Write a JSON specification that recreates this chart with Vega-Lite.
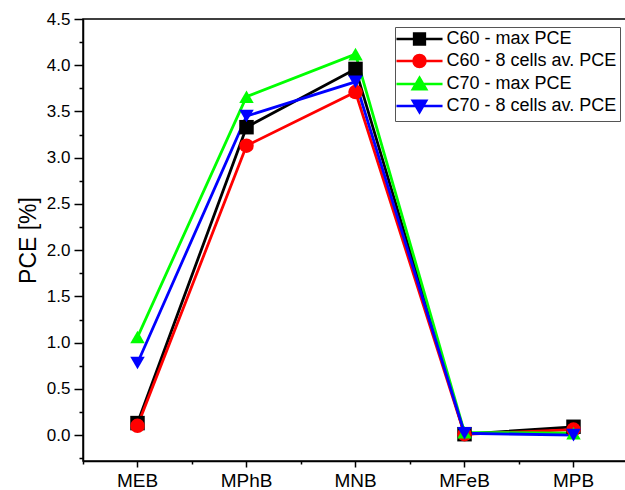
{
  "$schema": "https://vega.github.io/schema/vega-lite/v6.json",
  "width": 545,
  "height": 442,
  "autosize": {"type": "none"},
  "padding": {"left": 83, "top": 19, "right": 0, "bottom": 29},
  "background": "white",
  "config": {
    "view": {"stroke": "black", "strokeWidth": 1.5},
    "font": "Liberation Sans",
    "axis": {
      "domainColor": "black", "domainWidth": 1.5,
      "tickColor": "black", "tickWidth": 1.5,
      "labelColor": "black", "labelFont": "Liberation Sans",
      "titleColor": "black", "titleFont": "Liberation Sans",
      "grid": false
    },
    "axisX": {"labelFontSize": 19, "labelPadding": 4, "labelAngle": 0},
    "axisY": {"labelFontSize": 17, "labelPadding": 4, "titleFontSize": 23, "titleFontWeight": "normal", "titlePadding": 6},
    "legend": {
      "orient": "none", "legendX": 312, "legendY": 8,
      "labelFontSize": 18, "labelColor": "black", "labelFont": "Liberation Sans", "labelLimit": 400,
      "symbolSize": 225, "symbolOffset": 12.5, "labelOffset": 18,
      "padding": 3, "rowPadding": 0,
      "strokeColor": "#555555"
    }
  },
  "data": {
    "values": [
      {"sample": "MEB", "series": "C60 - max PCE", "pce": 0.13},
      {"sample": "MPhB", "series": "C60 - max PCE", "pce": 3.33},
      {"sample": "MNB", "series": "C60 - max PCE", "pce": 3.96},
      {"sample": "MFeB", "series": "C60 - max PCE", "pce": 0.01},
      {"sample": "MPB", "series": "C60 - max PCE", "pce": 0.09},
      {"sample": "MEB", "series": "C60 - 8 cells av. PCE", "pce": 0.10},
      {"sample": "MPhB", "series": "C60 - 8 cells av. PCE", "pce": 3.13},
      {"sample": "MNB", "series": "C60 - 8 cells av. PCE", "pce": 3.71},
      {"sample": "MFeB", "series": "C60 - 8 cells av. PCE", "pce": 0.01},
      {"sample": "MPB", "series": "C60 - 8 cells av. PCE", "pce": 0.06},
      {"sample": "MEB", "series": "C70 - max PCE", "pce": 1.06},
      {"sample": "MPhB", "series": "C70 - max PCE", "pce": 3.66},
      {"sample": "MNB", "series": "C70 - max PCE", "pce": 4.12},
      {"sample": "MFeB", "series": "C70 - max PCE", "pce": 0.03},
      {"sample": "MPB", "series": "C70 - max PCE", "pce": 0.02},
      {"sample": "MEB", "series": "C70 - 8 cells av. PCE", "pce": 0.78},
      {"sample": "MPhB", "series": "C70 - 8 cells av. PCE", "pce": 3.45},
      {"sample": "MNB", "series": "C70 - 8 cells av. PCE", "pce": 3.82},
      {"sample": "MFeB", "series": "C70 - 8 cells av. PCE", "pce": 0.02},
      {"sample": "MPB", "series": "C70 - 8 cells av. PCE", "pce": 0.00}
    ]
  },
  "layer": [
    {
      "mark": {"type": "line", "strokeWidth": 2.8},
      "encoding": {
        "x": {
          "field": "sample", "type": "nominal",
          "sort": ["MEB", "MPhB", "MNB", "MFeB", "MPB"],
          "scale": {"type": "band", "paddingInner": 0, "paddingOuter": 0},
          "axis": {"title": null, "orient": "bottom", "tickSize": 6, "tickBand": "center"}
        },
        "y": {
          "field": "pce", "type": "quantitative",
          "scale": {"domain": [-0.28, 4.5], "nice": false, "zero": false},
          "axis": {
            "title": "PCE [%]", "orient": "left",
            "values": [0, 0.5, 1, 1.5, 2, 2.5, 3, 3.5, 4, 4.5],
            "format": ".1f", "tickSize": 9, "labelOverlap": false
          }
        },
        "color": {
          "field": "series", "type": "nominal",
          "sort": ["C60 - max PCE", "C60 - 8 cells av. PCE", "C70 - max PCE", "C70 - 8 cells av. PCE"],
          "scale": {"range": ["#000000", "#ff0000", "#00ff00", "#0000ff"]},
          "legend": {
            "title": null,
            "encode": {
              "symbols": {
                "update": {
                  "shape": {"signal": "datum.value === 'C60 - max PCE' ? 'M-3.07,0H3.07M-0.72,-0.72H0.72V0.72H-0.72Z' : datum.value === 'C60 - 8 cells av. PCE' ? 'M-3.07,0H3.07M-0.8,0A0.8,0.8,0,1,1,0.8,0A0.8,0.8,0,1,1,-0.8,0Z' : datum.value === 'C70 - max PCE' ? 'M-3.07,0H3.07M0,-0.85L0.9,0.7L-0.9,0.7Z' : 'M-3.07,0H3.07M0,0.85L0.9,-0.7L-0.9,-0.7Z'"},
                  "fill": {"scale": "color", "field": "value"},
                  "stroke": {"scale": "color", "field": "value"},
                  "strokeWidth": {"value": 2.5},
                  "opacity": {"value": 1}
                }
              }
            }
          }
        }
      }
    },
    {
      "mark": {"type": "point", "filled": true, "opacity": 1, "size": 210},
      "encoding": {
        "x": {"field": "sample", "type": "nominal", "sort": ["MEB", "MPhB", "MNB", "MFeB", "MPB"], "axis": null},
        "y": {"field": "pce", "type": "quantitative", "axis": null},
        "color": {
          "field": "series", "type": "nominal",
          "sort": ["C60 - max PCE", "C60 - 8 cells av. PCE", "C70 - max PCE", "C70 - 8 cells av. PCE"],
          "legend": {
            "title": null,
            "encode": {
              "symbols": {
                "update": {
                  "shape": {"signal": "datum.value === 'C60 - max PCE' ? 'M-3.07,0H3.07M-0.72,-0.72H0.72V0.72H-0.72Z' : datum.value === 'C60 - 8 cells av. PCE' ? 'M-3.07,0H3.07M-0.8,0A0.8,0.8,0,1,1,0.8,0A0.8,0.8,0,1,1,-0.8,0Z' : datum.value === 'C70 - max PCE' ? 'M-3.07,0H3.07M0,-0.85L0.9,0.7L-0.9,0.7Z' : 'M-3.07,0H3.07M0,0.85L0.9,-0.7L-0.9,-0.7Z'"},
                  "fill": {"scale": "color", "field": "value"},
                  "stroke": {"scale": "color", "field": "value"},
                  "strokeWidth": {"value": 2.5},
                  "opacity": {"value": 1}
                }
              }
            }
          }
        },
        "shape": {
          "field": "series", "type": "nominal",
          "sort": ["C60 - max PCE", "C60 - 8 cells av. PCE", "C70 - max PCE", "C70 - 8 cells av. PCE"],
          "scale": {"range": ["square", "circle", "triangle-up", "triangle-down"]},
          "legend": null
        }
      }
    },
    {
      "mark": {"type": "point", "opacity": 0},
      "encoding": {
        "x": {
          "field": "sample", "type": "nominal", "sort": ["MEB", "MPhB", "MNB", "MFeB", "MPB"],
          "axis": {"title": null, "orient": "bottom", "labels": false, "domain": false, "tickSize": 3, "tickBand": "extent"}
        },
        "y": {
          "field": "pce", "type": "quantitative",
          "axis": {"title": null, "orient": "left", "labels": false, "domain": false, "tickSize": 4,
            "values": [-0.25, 0.25, 0.75, 1.25, 1.75, 2.25, 2.75, 3.25, 3.75, 4.25]}
        }
      }
    }
  ],
  "resolve": {"axis": {"x": "independent", "y": "independent"}}
}
